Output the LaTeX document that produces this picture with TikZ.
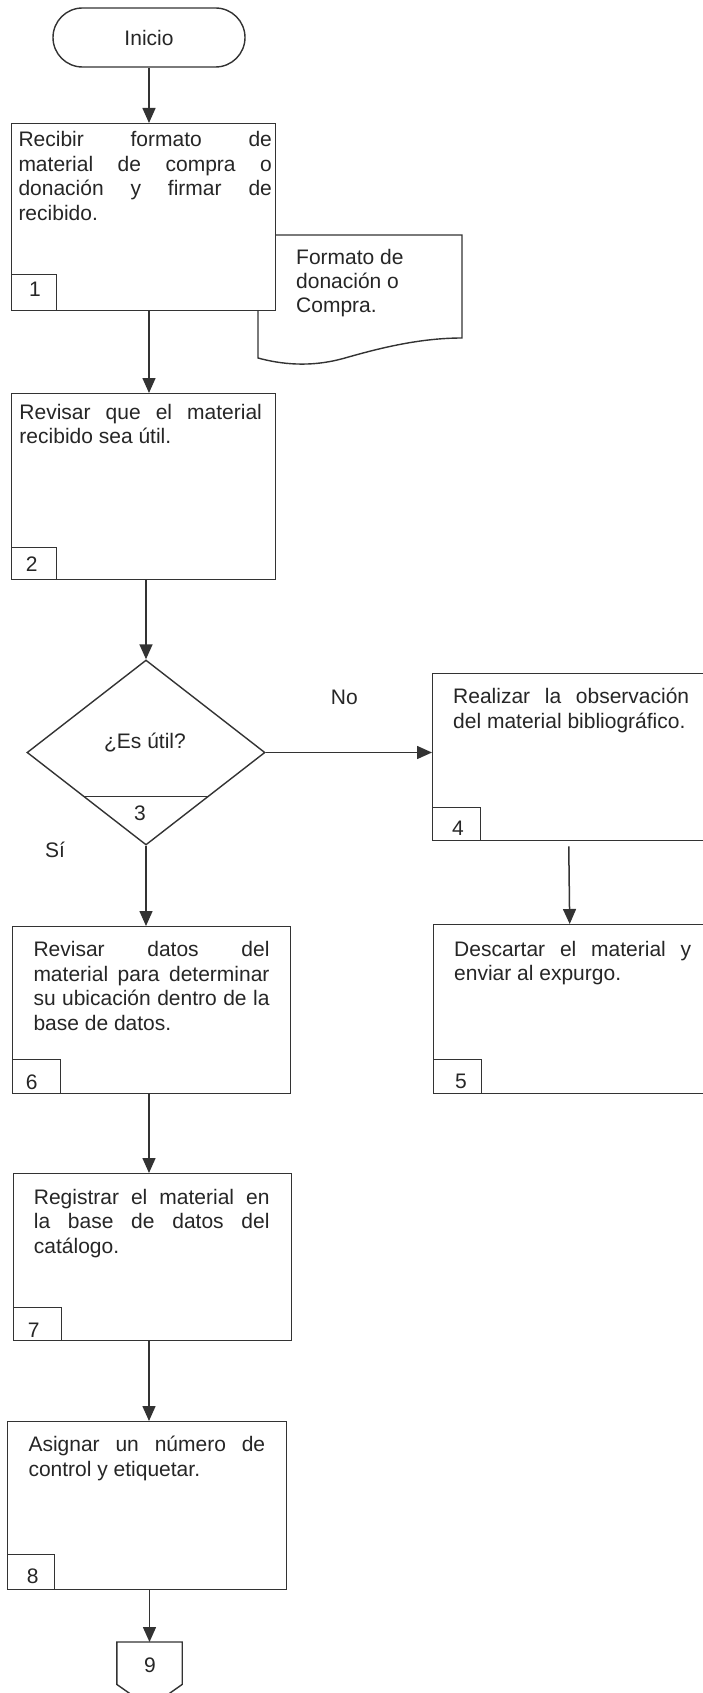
\documentclass[tikz,border=0pt]{standalone}
\usepackage{fontspec}
\setmainfont{Liberation Sans}
\usetikzlibrary{arrows.meta,shapes.geometric,calc}
\hbadness=10000 \hfuzz=3pt
\definecolor{linec}{HTML}{333333}
\definecolor{txtc}{HTML}{262626}
\newcommand\jline[2]{\hbox to #1pt{#2}}
\newcommand\lline[1]{\hbox{#1}}
\begin{document}
\begin{tikzpicture}[x=1pt,y=-1pt,
  every node/.style={font=\fontsize{21}{24.5}\selectfont, text=txtc},
  proc/.style={draw=linec, line width=1.4pt, fill=white, rectangle, inner sep=0pt, anchor=north west},
  numbox/.style={draw=linec, line width=1.2pt, rectangle, inner sep=0pt, anchor=south west},
  txt/.style={inner sep=0pt, anchor=base west},
  lbl/.style={inner sep=0pt, anchor=base},
  arr/.style={draw=linec, line width=1.5pt, -{Triangle[length=15pt,width=13pt]}},
]
\useasboundingbox (0,0) rectangle (703,1693);
\clip (0,0) rectangle (703,1693);
\fill[white] (0,0) rectangle (703,1693);

% Inicio
\node[draw=linec, line width=1.4pt, rounded corners=29.5pt, minimum width=192pt, minimum height=59pt, inner sep=0pt] (inicio) at (149,37.5) {Inicio};

% document shape behind box 1
\draw[linec, line width=1.4pt, fill=white] (258,235) -- (462,235) -- (462,338)
  .. controls (420,338) and (380,348) .. (345,358)
  .. controls (310,368) and (280,364) .. (258,358) -- cycle;
\node[txt] (doct) at (296,265) {\vtop{\baselineskip=24pt\lline{Formato de}\lline{donación o}\lline{Compra.}}};

% Box 1
\node[proc, minimum width=264pt, minimum height=187pt] (b1) at (11,123) {};
\node[numbox, minimum width=45pt, minimum height=36pt] (n1) at (b1.south west) {};
\node[lbl] (n1t) at (35,296.7) {1};
\node[txt] (t1) at (18.3,146.6) {\vtop{\jline{253.4}{Recibir formato de}\jline{253.4}{material de compra o}\jline{253.4}{donación y firmar de}\lline{recibido.}}};

% Box 2
\node[proc, minimum width=264pt, minimum height=186pt] (b2) at (11,393) {};
\node[numbox, minimum width=45pt, minimum height=32pt] (n2) at (b2.south west) {};
\node[lbl] (n2t) at (31.7,571.7) {2};
\node[txt] (t2) at (19.3,419.3) {\vtop{\baselineskip=24pt\jline{242.4}{Revisar que el material}\lline{recibido sea útil.}}};

% Decision
\node[diamond, draw=linec, line width=1.4pt, fill=white, minimum width=238pt, minimum height=185pt, inner sep=0pt, aspect=1.286] (d) at (146,752.5) {};
\draw[linec, line width=1.2pt] ($(d.west)!0.47!(d.south)$) -- ($(d.east)!0.47!(d.south)$);
\node[lbl] (dt) at (145,748.3) {¿Es útil?};
\node[lbl] (d3) at (140,820.7) {3};
\node[lbl] (no) at (344.3,704) {No};
\node[lbl] (si) at (55,857.3) {Sí};

% Box 4
\node[proc, minimum width=280pt, minimum height=167pt] (b4) at (432,673) {};
\node[numbox, minimum width=48pt, minimum height=33pt] (n4) at (b4.south west) {};
\node[lbl] (n4t) at (458,835.7) {4};
\node[txt] (t4) at (453,703.3) {\vtop{\baselineskip=25pt\jline{236}{Realizar la observación}\lline{del material bibliográfico.}}};

% Box 5
\node[proc, minimum width=280pt, minimum height=169pt] (b5) at (433,924) {};
\node[numbox, minimum width=48pt, minimum height=34pt] (n5) at (b5.south west) {};
\node[lbl] (n5t) at (461,1088) {5};
\node[txt] (t5) at (454,956) {\vtop{\baselineskip=24pt\jline{237}{Descartar el material y}\lline{enviar al expurgo.}}};

% Box 6
\node[proc, minimum width=278pt, minimum height=167pt] (b6) at (12,926) {};
\node[numbox, minimum width=48pt, minimum height=34pt] (n6) at (b6.south west) {};
\node[lbl] (n6t) at (31.7,1089) {6};
\node[txt] (t6) at (33.3,956.7) {\vtop{\jline{236}{Revisar datos del}\jline{236}{material para determinar}\jline{236}{su ubicación dentro de la}\lline{base de datos.}}};

% Box 7
\node[proc, minimum width=278pt, minimum height=167pt] (b7) at (13,1173) {};
\node[numbox, minimum width=48pt, minimum height=33pt] (n7) at (b7.south west) {};
\node[lbl] (n7t) at (33.7,1337) {7};
\node[txt] (t7) at (33.7,1204) {\vtop{\jline{235.6}{Registrar el material en}\jline{235.6}{la base de datos del}\lline{catálogo.}}};

% Box 8
\node[proc, minimum width=279pt, minimum height=168pt] (b8) at (7,1421) {};
\node[numbox, minimum width=47pt, minimum height=35pt] (n8) at (b8.south west) {};
\node[lbl] (n8t) at (32.7,1583.7) {8};
\node[txt] (t8) at (28.3,1451.3) {\vtop{\baselineskip=25pt\jline{236.7}{Asignar un número de}\lline{control y etiquetar.}}};

% Off-page connector 9
\node[inner sep=0pt, minimum width=65pt, minimum height=42pt, anchor=north] (c9) at (149.5,1642) {};
\draw[linec, line width=1.4pt, fill=white] (c9.north west) -- (c9.north east) -- (c9.south east) -- ([yshift=-23pt]c9.south) -- (c9.south west) -- cycle;
\node[lbl] (c9t) at (150,1672.3) {9};

% Connectors
\draw[arr] (inicio.south) -- (inicio.south |- b1.north);
\draw[arr] (b1.south -| inicio) -- (b2.north -| inicio);
\draw[arr] (b2.south -| d.north) -- (d.north);
\draw[arr] (d.east) -- (d.east -| b4.west);
\draw[arr, shorten <=5pt] ([xshift=-4pt]b4.south) -- ([xshift=-4pt]b5.north);
\draw[arr] (d.south) -- (d.south |- b6.north);
\draw[arr] (b6.south -| inicio) -- (b7.north -| inicio);
\draw[arr] (b7.south -| inicio) -- (b8.north -| inicio);
\draw[arr] (b8.south -| c9.north) -- (c9.north);
\end{tikzpicture}
\end{document}
